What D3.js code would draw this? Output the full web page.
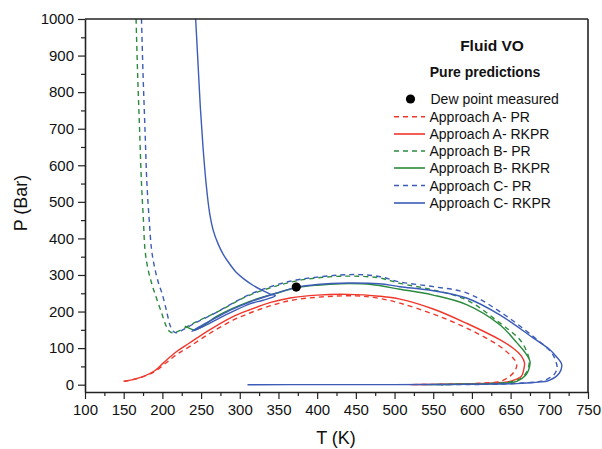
<!DOCTYPE html>
<html>
<head>
<meta charset="utf-8">
<script src="https://cdn.jsdelivr.net/npm/d3@7"></script>
<style>
  html, body { margin: 0; padding: 0; background: #fff; }
  svg { display: block; }
  text { font-family: "Liberation Sans", Arial, sans-serif; fill: #111; }
</style>
</head>
<body>
<svg id="chart" width="602" height="449"></svg>
<script>
// ---------- DATA (T in K, P in Bar) ----------
const xTicks = [100,150,200,250,300,350,400,450,500,550,600,650,700,750];
const yTicks = [0,100,200,300,400,500,600,700,800,900,1000];

const dewPoint = [[373, 267]];

const approachA_PR = [
  [150,9],[162,14],[175,22],[190,36],[205,60],[218,82],[235,104],[261,140],[290,175],
  [313,196],[340,216],[365,230],[400,239],[450,243],[480,236],[507,223],[550,193],
  [593,155],[636,105],[650,80],[656,65],[658,55],[656,40],[649,23],[636,9],[610,4],
  [580,2],[550,0.8],[520,0.2]
];
const approachA_RKPR = [
  [150,9],[162,14],[175,22],[190,38],[201,59],[218,90],[235,114],[261,150],[290,185],
  [313,205],[340,225],[365,237],[400,245],[440,247],[480,242],[507,234],[550,207],
  [593,168],[636,123],[655,97],[664,78],[668,59],[667,42],[664,23],[649,9],[620,4],
  [590,2],[550,0.8],[520,0.2]
];
const approachB_PR = [
  [166,1000],[168,850],[170.5,700],[173,550],[175.5,450],[177.5,370],[181,320],[186,278],
  [191,245],[199,196],[205,160],[209,146],[213,142],[220,146],[240,168],[270,198],[313,245],
  [365,280],[400,292],[440,297],[480,292],[507,277],[550,259],[593,232],[636,169],
  [662,123],[671,90],[674,65],[672,40],[665,20],[653,9],[620,3],[580,1],[550,0.3]
];
const approachB_RKPR = [
  [229,160],[235,154],[242,150],[255,164],[270,187],[313,228],[347,250],[373,265],
  [400,272],[430,276],[470,274],[507,261],[550,245],[593,219],[636,164],[658,115],
  [668,90],[675,64],[674,45],[670,27],[658,9],[630,3],[590,1],[540,0.2]
];
const approachC_PR = [
  [173,1000],[175,850],[177.5,700],[180,550],[183,450],[186,370],[190,320],[195,278],
  [199.5,250],[205,205],[210,162],[214,146],[218,142],[224,147],[240,166],[270,198],
  [313,247],[365,283],[400,294],[430,300],[455,301],[480,296],[507,281],[550,268],
  [593,251],[636,200],[679,132],[703,87],[709,60],[710,45],[706,27],[698,16],[688,9],
  [660,4],[636,1.5],[600,0.5],[560,0]
];
const approachC_RKPR = [
  [243,1000],[246,880],[249,760],[252.5,650],[256.5,550],[261,470],[266,420],[272,385],
  [279,355],[287,330],[296,306],[306,288],[317,272],[328,259],[338,249],[346,243],
  [330,231],[313,221],[290,199],[270,178],[252,158],[238,146],
  [250,161],[270,184],[290,206],[313,226],[347,250],[373,266],[400,274],[440,278],
  [480,276],[507,268],[550,257],[593,237],[636,191],[679,128],[700,97],[709,77],
  [716,55],[713,32],[700,12],[680,6],[658,3],[620,1.5],[560,0.6],[500,0.3],[400,0.1],[310,0]
];

const seriesNames = ["Approach A- PR","Approach A- RKPR","Approach B- PR","Approach B- RKPR","Approach C- PR","Approach C- RKPR"];
const seriesData = [approachA_PR, approachA_RKPR, approachB_PR, approachB_RKPR, approachC_PR, approachC_RKPR];
const seriesColors = ["#f0372b","#f0372b","#2b8a3e","#2b8a3e","#3c5cb8","#3c5cb8"];
const seriesDashed = [true,false,true,false,true,false];

// ---------- CHART ----------
const svg = d3.select("#chart");
const padL = 85, padR = 588, padT = 19, padB = 392;
const x = d3.scaleLinear().domain([100, 750]).range([padL, padR]);
const y = d3.scaleLinear().domain([-20, 1000]).range([padB, padT]);

svg.append("defs").append("clipPath").attr("id","clip")
  .append("rect").attr("x", padL).attr("y", padT).attr("width", padR-padL).attr("height", padB-padT);

const line = d3.line().x(d => x(d[0])).y(d => y(d[1])).curve(d3.curveCatmullRom.alpha(0.5));

const plot = svg.append("g").attr("clip-path","url(#clip)");
seriesData.forEach((data, i) => {
  plot.append("path")
    .attr("d", line(data))
    .attr("fill","none")
    .attr("stroke", seriesColors[i])
    .attr("stroke-width", 1.4)
    .attr("stroke-dasharray", seriesDashed[i] ? "5,4" : null);
});

plot.selectAll("circle.dew").data(dewPoint).enter().append("circle")
  .attr("class","dew")
  .attr("cx", d => x(d[0])).attr("cy", d => y(d[1])).attr("r", 4.6).attr("fill","#000");

// axes
const xMinor = d3.range(125, 750, 50);
const yMinor = d3.range(50, 1000, 100);

const gx = svg.append("g").attr("transform", `translate(0,${padB})`);
gx.call(d3.axisBottom(x).tickValues(xTicks).tickSize(7).tickSizeOuter(0).tickPadding(5).tickFormat(d3.format("d")));
const gxm = svg.append("g").attr("transform", `translate(0,${padB})`);
gxm.call(d3.axisBottom(x).tickValues(xMinor).tickSize(4).tickSizeOuter(0).tickFormat(""));
gxm.select(".domain").remove();

const gy = svg.append("g").attr("transform", `translate(${padL},0)`);
gy.call(d3.axisLeft(y).tickValues(yTicks).tickSize(7).tickSizeOuter(0).tickPadding(4).tickFormat(d3.format("d")));
const gym = svg.append("g").attr("transform", `translate(${padL},0)`);
gym.call(d3.axisLeft(y).tickValues(yMinor).tickSize(4).tickSizeOuter(0).tickFormat(""));
gym.select(".domain").remove();

svg.selectAll(".tick line").attr("stroke","#222").attr("stroke-width",1.2);
svg.selectAll(".domain").attr("stroke","#222").attr("stroke-width",1.6);
svg.selectAll(".tick text").style("font-family","'Liberation Sans', Arial, sans-serif").style("font-size","15px").attr("fill","#111");

// frame top/right
svg.append("line").attr("x1", padL).attr("x2", padR).attr("y1", padT).attr("y2", padT).attr("stroke","#222").attr("stroke-width",1.6);
svg.append("line").attr("x1", padR).attr("x2", padR).attr("y1", padT).attr("y2", padB).attr("stroke","#222").attr("stroke-width",1.6);

// axis titles
svg.append("text").attr("x", 336).attr("y", 444).attr("text-anchor","middle").style("font-size","18px").text("T (K)");
svg.append("text").attr("transform","translate(27,203) rotate(-90)").attr("text-anchor","middle").style("font-size","18px").text("P (Bar)");

// legend
svg.append("text").attr("x", 492).attr("y", 51).attr("text-anchor","middle").style("font-size","15.5px").style("font-weight","bold").text("Fluid VO");
svg.append("text").attr("x", 485).attr("y", 77).attr("text-anchor","middle").style("font-size","14px").style("font-weight","bold").text("Pure predictions");

svg.append("circle").attr("cx", 410.5).attr("cy", 99).attr("r", 4.6).attr("fill","#000");
svg.append("text").attr("x", 430.5).attr("y", 104).style("font-size","14px").text("Dew point measured");

const legRowY = [116.7, 134, 151, 168, 185.5, 203];
seriesNames.forEach((name, i) => {
  svg.append("line").attr("x1", 394).attr("x2", 425).attr("y1", legRowY[i]).attr("y2", legRowY[i])
    .attr("stroke", seriesColors[i]).attr("stroke-width", 1.6)
    .attr("stroke-dasharray", seriesDashed[i] ? "5,4" : null);
  svg.append("text").attr("x", 429.5).attr("y", legRowY[i] + 5).style("font-size","14px").text(name);
});
</script>
</body>
</html>
